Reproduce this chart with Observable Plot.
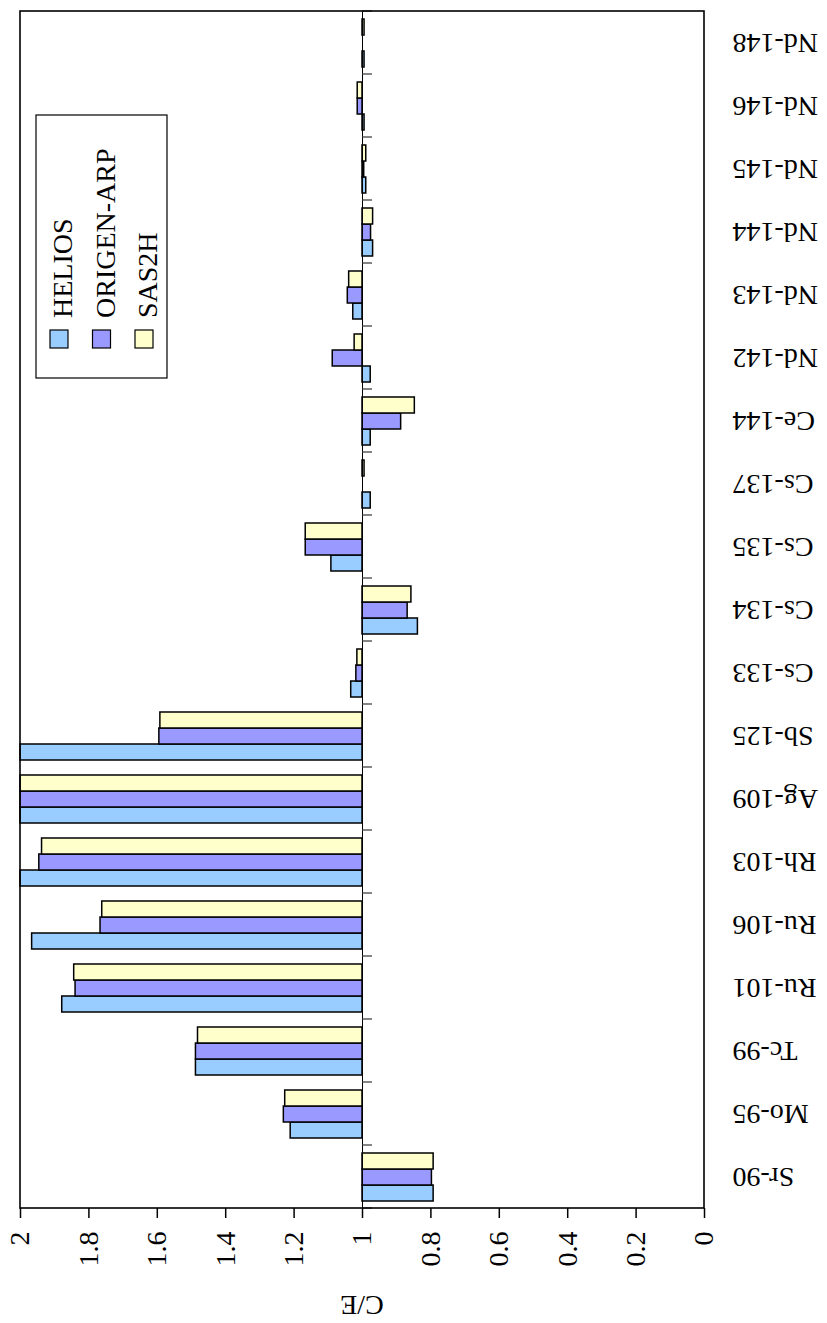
<!DOCTYPE html>
<html><head><meta charset="utf-8">
<script src="https://cdn.jsdelivr.net/npm/d3@7"></script>
<script src="https://cdn.jsdelivr.net/npm/@observablehq/plot@0.6"></script>
<style>html,body{margin:0;padding:0;background:#fff}</style>
</head><body><div id="chart"></div>
<script>
const categories = ["Sr-90","Mo-95","Tc-99","Ru-101","Ru-106","Rh-103","Ag-109","Sb-125","Cs-133","Cs-134","Cs-135","Cs-137","Ce-144","Nd-142","Nd-143","Nd-144","Nd-145","Nd-146","Nd-148"];
const series = ["HELIOS","ORIGEN-ARP","SAS2H"];
const seriesColors = ["#99CCFF","#9999FF","#FFFFCC"];
const helios = [0.792,1.210,1.487,1.878,1.966,2.005,2.5,2.3,1.033,0.838,1.091,0.976,0.976,0.976,1.027,0.969,0.989,0.994,0.994];
const origenArp = [0.797,1.230,1.487,1.839,1.766,1.945,2.5,1.594,1.018,0.868,1.166,1.000,0.887,1.087,1.043,0.975,0.995,1.014,1.000];
const sas2h = [0.792,1.226,1.481,1.843,1.761,1.937,2.5,1.591,1.015,0.857,1.166,0.994,0.847,1.023,1.039,0.969,0.989,1.014,0.994];
const xTicks = [0,0.2,0.4,0.6,0.8,1,1.2,1.4,1.6,1.8,2];
const xTickLabels = ["0","0.2","0.4","0.6","0.8","1","1.2","1.4","1.6","1.8","2"];
const axisTitle = "C/E";
const baseline = 1;

const seriesValues = [helios, origenArp, sas2h];
const rows = categories.flatMap((c, i) => series.map((s, j) => ({category: c, series: s, value: seriesValues[j][i]})));

const FONT = "'Liberation Serif','Times New Roman',serif";

const chart = Plot.plot({
  width: 827, height: 1323,
  marginLeft: 20, marginRight: 123, marginTop: 10, marginBottom: 114,
  style: {fontFamily: FONT, fontSize: "28px", color: "#000", background: "#fff"},
  x: {domain: [0, 2], reverse: true, clamp: true, axis: null},
  y: {domain: series.slice().reverse(), paddingInner: 0, paddingOuter: 0.39, axis: null},
  fy: {domain: categories.slice().reverse(), padding: 0, axis: null},
  color: {domain: series, range: seriesColors},
  marks: [
    Plot.barX(rows, {fy: "category", y: "series", x1: baseline, x2: "value", fill: "series", stroke: "#000", strokeWidth: 1.5}),
    Plot.ruleX([baseline], {stroke: "#000", strokeWidth: 1}),
    Plot.axisX(xTicks, {anchor: "bottom", tickSize: 10, tickPadding: 13, tickRotate: -90, textAnchor: "end", lineAnchor: "middle",
      tickFormat: d => xTickLabels[xTicks.indexOf(d)], fontSize: 28, fontFamily: FONT, fontVariant: "normal",
      stroke: "#000", strokeWidth: 1.5, label: null}),
    Plot.axisFy({anchor: "right", tickSize: 0, tickPadding: 28, tickRotate: 180, textAnchor: "end", lineAnchor: "middle",
      fontSize: 28, fontFamily: FONT, fontVariant: "normal", label: null})
  ]
});
document.getElementById("chart").appendChild(chart);

// Frame, category ticks, axis title and legend, positioned from the chart's own scales
const svg = d3.select(chart);
const xs = chart.scale("x"), fys = chart.scale("fy");
const xL = xs.apply(2), xR = xs.apply(0), x1 = xs.apply(baseline);
const bandTops = categories.map(c => fys.apply(c));
const bw = fys.bandwidth;
const yT = d3.min(bandTops), yB = d3.max(bandTops) + bw;

svg.selectAll("text").attr("font-family", FONT);

const over = svg.append("g");
// category tick marks at band boundaries
over.selectAll("line.ct").data(bandTops.concat([yB])).join("line")
  .attr("x1", x1).attr("x2", x1 + 10).attr("y1", d => d).attr("y2", d => d)
  .attr("stroke", "#333").attr("stroke-width", 1.2);
// plot frame
over.append("rect").attr("x", xL).attr("y", yT).attr("width", xR - xL).attr("height", yB - yT)
  .attr("fill", "none").attr("stroke", "#000").attr("stroke-width", 1.6);
// axis title (upside down like the reference)
over.append("text").text(axisTitle)
  .attr("transform", `translate(${(xL + xR) / 2},${yB + 98}) rotate(180)`)
  .attr("text-anchor", "middle").attr("dy", "0.35em")
  .attr("font-family", FONT).attr("font-size", 28).attr("fill", "#000");

// legend
const lg = svg.append("g");
lg.append("rect").attr("x", 36).attr("y", 115).attr("width", 131).attr("height", 263)
  .attr("fill", "#fff").attr("stroke", "#000").attr("stroke-width", 1.2);
series.forEach((s, i) => {
  const sx = 50 + i * 42.5;
  lg.append("rect").attr("x", sx).attr("y", 330).attr("width", 18).attr("height", 18)
    .attr("fill", seriesColors[i]).attr("stroke", "#000").attr("stroke-width", 1.2);
  lg.append("text").text(s)
    .attr("transform", `translate(${sx + 22},318) rotate(-90)`)
    .attr("text-anchor", "start")
    .attr("font-family", FONT).attr("font-size", 28).attr("fill", "#000");
});
</script>
</body></html>
